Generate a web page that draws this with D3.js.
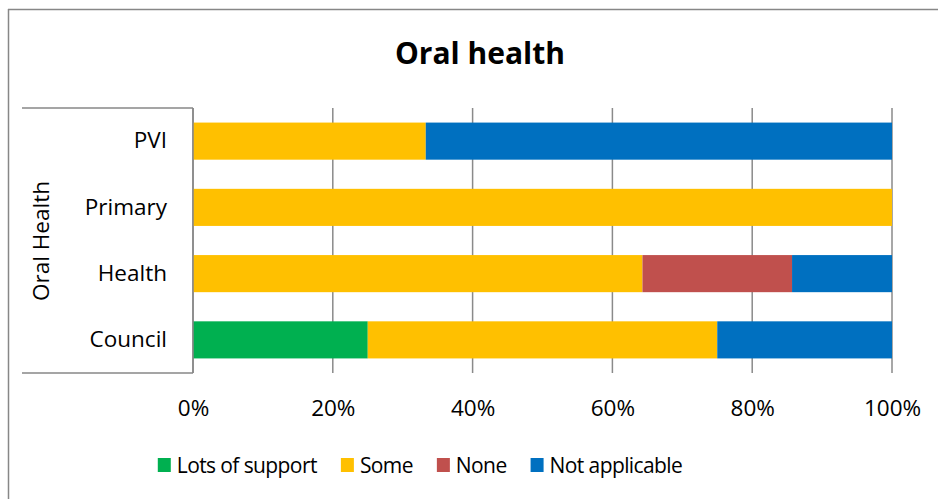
<!DOCTYPE html>
<html><head><meta charset="utf-8">
<script src="https://cdn.jsdelivr.net/npm/d3@7"></script>
<style>body{margin:0;background:#fff}svg{display:block}text{font-family:"Open Sans",sans-serif;fill:#000}</style>
</head><body><svg id="c" width="938" height="499"></svg>
<script>
const categories = ["PVI","Primary","Health","Council"];
const seriesNames = ["Lots of support","Some","None","Not applicable"];
const lotsOfSupport = [0, 0, 0, 25];
const some = [33.3, 100, 64.3, 50];
const none = [0, 0, 21.4, 0];
const notApplicable = [66.7, 0, 14.3, 25];
const tickValues = [0,20,40,60,80,100];
const colors = ["#00B050","#FFC000","#C0504D","#0070C0"];

const svg = d3.select("#c");
const rows = categories.map((c,i)=>({cat:c,"Lots of support":lotsOfSupport[i],"Some":some[i],"None":none[i],"Not applicable":notApplicable[i]}));
const stack = d3.stack().keys(seriesNames)(rows);

const L=193,R=892,T=108,B=373;
const x = d3.scaleLinear().domain([0,100]).range([L,R]);
const y = d3.scaleBand().domain(categories).range([T,B]).paddingInner(0.44).paddingOuter(0.22);

// outer border (top & left)
svg.append("line").attr("x1",8).attr("x2",938).attr("y1",9.5).attr("y2",9.5).attr("stroke","#878787").attr("stroke-width",1.5);
svg.append("line").attr("x1",8.5).attr("x2",8.5).attr("y1",9).attr("y2",499).attr("stroke","#878787").attr("stroke-width",1.5);

// title
svg.append("text").attr("x",480).attr("y",64).attr("text-anchor","middle").style("font-size","30px").style("font-weight","bold").text("Oral health");

// gridlines
svg.append("g").selectAll("line").data(tickValues).join("line")
  .attr("x1",d=>x(d)).attr("x2",d=>x(d)).attr("y1",T).attr("y2",B)
  .attr("stroke","#8a8a8a").attr("stroke-width",1.5);

// bars
svg.append("g").selectAll("g").data(stack).join("g").attr("fill",(d,i)=>colors[i])
  .selectAll("rect").data(d=>d).join("rect")
  .attr("x",d=>x(d[0])).attr("width",d=>x(d[1])-x(d[0]))
  .attr("y",d=>y(d.data.cat)).attr("height",y.bandwidth());

// category box
const box = svg.append("g").attr("stroke","#878787").attr("stroke-width",1.5).attr("fill","none");
box.append("line").attr("x1",22).attr("x2",L).attr("y1",T).attr("y2",T);
box.append("line").attr("x1",22).attr("x2",L).attr("y1",B).attr("y2",B);
box.append("line").attr("x1",L).attr("x2",L).attr("y1",T).attr("y2",B);

// category labels
const yAxis = svg.append("g").attr("transform",`translate(${L},0)`).call(d3.axisLeft(y).tickSize(0).tickPadding(26));
yAxis.select(".domain").remove();
yAxis.selectAll("text").style("font-size","22.5px").style("font-family","'Open Sans',sans-serif");

// group label
svg.append("text").attr("transform","translate(49,241) rotate(-90)").attr("text-anchor","middle").style("font-size","22.5px").text("Oral Health");

// x axis labels
const xAxis = svg.append("g").attr("transform",`translate(0,${B})`).call(d3.axisBottom(x).tickValues(tickValues).tickFormat(d=>d+"%").tickSize(0).tickPadding(27));
xAxis.select(".domain").remove();
xAxis.selectAll("text").style("font-size","22.5px").style("font-family","'Open Sans',sans-serif");

// legend
const lg = svg.append("g");
const items = lg.selectAll("g").data(seriesNames).join("g");
items.append("rect").attr("width",13).attr("height",14).attr("y",458).attr("fill",(d,i)=>colors[i]);
items.append("text").attr("x",19).attr("y",473).style("font-size","21px").style("letter-spacing","-0.6px").text(d=>d);
let cx=0; const gap=24; const pos=[];
items.each(function(){const w=this.getBBox().width;pos.push(cx);cx+=w+gap;});
const total=cx-gap, start=420-total/2;
items.attr("transform",(d,i)=>`translate(${start+pos[i]},0)`);
</script></body></html>
